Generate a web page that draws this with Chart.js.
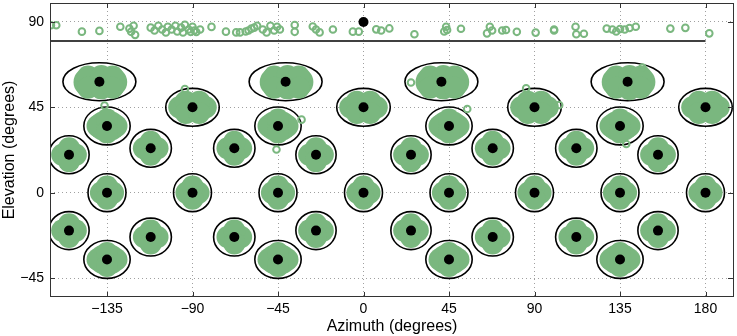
<!DOCTYPE html>
<html>
<head>
<meta charset="utf-8">
<script src="https://cdn.jsdelivr.net/npm/chart.js@4/dist/chart.umd.min.js"></script>
<style>
  html, body { margin: 0; padding: 0; background: #fff; }
  canvas { display: block; }
</style>
</head>
<body>
<canvas id="chart" width="737" height="336"></canvas>
<script>
// tick labels
const xTicks = [-135, -90, -45, 0, 45, 90, 135, 180];
const yTicks = [-45, 0, 45, 90];

// loudspeaker (target) positions, azimuth / elevation in degrees
const sourceAz = [0,
  -139, -41, 41, 139,
  -90, 0, 90, 180,
  -135, -45, 45, 135,
  -155, -25, 25, 155,
  -112, -68, 68, 112,
  -135, -90, -45, 0, 45, 90, 135, 180,
  -155, -25, 25, 155,
  -112, -68, 68, 112,
  -135, -45, 45, 135];
const sourceEl = [90,
  58.5, 58.5, 58.5, 58.5,
  45, 45, 45, 45,
  35.2, 35.2, 35.2, 35.2,
  20, 20, 20, 20,
  23.4, 23.4, 23.4, 23.4,
  0, 0, 0, 0, 0, 0, 0, 0,
  -20, -20, -20, -20,
  -23.4, -23.4, -23.4, -23.4,
  -35.2, -35.2, -35.2, -35.2];

// half widths of the black ellipses (degrees azimuth), null = no ellipse
const ellipseRx = [null,
  19.2, 19.2, 19.2, 19.2,
  14.1, 14.1, 14.1, 14.1,
  12.2, 12.2, 12.2, 12.2,
  10.6, 10.6, 10.6, 10.6,
  10.9, 10.9, 10.9, 10.9,
  10, 10, 10, 10, 10, 10, 10, 10,
  10.6, 10.6, 10.6, 10.6,
  10.9, 10.9, 10.9, 10.9,
  12.2, 12.2, 12.2, 12.2];
const ellipseRy = 10;

// dense response clouds: bulk of each cloud (az, el)
const cloudCores = [
  [-145,58.3],[-138,58.3],[-132,58.3],[-47,58.3],[-40,58.3],[-34,58.3],
  [35,58.3],[42,58.3],[48,58.3],[133,58.3],[140,58.3],[146,58.3],
  [-93.5,45],[-86.5,45],[-3.5,45],[3.5,45],[86.5,45],[93.5,45],[176.5,45],[183.5,45],
  [-137,35.2],[-133,35.2],[-47,35.2],[-43,35.2],[43,35.2],[47,35.2],[133,35.2],[137,35.2],
  [-155,20],[-25,20],[25,20],[155,20],
  [-112,23.4],[-68,23.4],[68,23.4],[112,23.4],
  [-135,0],[-90,0],[-45,0],[0,0],[45,0],[90,0],[135,0],[180,0],
  [-155,-20],[-25,-20],[25,-20],[155,-20],
  [-112,-23.4],[-68,-23.4],[68,-23.4],[112,-23.4],
  [-137,-35.2],[-133,-35.2],[-47,-35.2],[-43,-35.2],[43,-35.2],[47,-35.2],[133,-35.2],[137,-35.2]
];

// dense response clouds: outer responses (az, el)
const cloudEdges = [
  [-146.5,58.3],[-130.5,58.3],[-145,61.3],[-138,61.5],[-132,61.3],[-145,55.3],[-138,55],[-132,55.3],
  [-48.5,58.3],[-32.5,58.3],[-47,61.3],[-40,61.5],[-34,61.3],[-47,55.3],[-40,55],[-34,55.3],
  [33.5,58.3],[49.5,58.3],[35,61.3],[42,61.5],[48,61.3],[35,55.3],[42,55],[48,55.3],
  [131.5,58.3],[147.5,58.3],[133,61.3],[140,61.5],[146,61.3],[133,55.3],[140,54.5],[146,55.3],

  [-97,45],[-83,45],[-93.5,48],[-86.5,48],[-93.5,42],[-86.5,42],
  [-7,45],[7,45],[-3.5,48],[3.5,48],[-3.5,42],[3.5,42],
  [83,45],[97,45],[86.5,48],[93.5,48],[86.5,42],[93.5,42],
  [173,45],[187,45],[176.5,48],[183.5,48],[176.5,42],[183.5,42],

  [-140,35.2],[-130,35.2],[-135,38.6],[-135,31.8],
  [-50,35.2],[-40,35.2],[-45,38.6],[-45,31.8],
  [40,35.2],[50,35.2],[45,38.6],[45,31.8],
  [130,35.2],[140,35.2],[135,38.6],[135,31.8],

  [-158.6,20],[-151.4,20],[-155,23.4],[-155,16.6],
  [-28.6,20],[-21.4,20],[-25,23.4],[-25,16.6],
  [21.4,20],[28.6,20],[25,23.4],[25,16.6],
  [151.4,20],[158.6,20],[155,23.4],[155,16.6],

  [-115.6,23.4],[-108.4,23.4],[-112,26.8],[-112,20],
  [-71.6,23.4],[-64.4,23.4],[-68,26.8],[-68,20],
  [64.4,23.4],[71.6,23.4],[68,26.8],[68,20],
  [108.4,23.4],[115.6,23.4],[112,26.8],[112,20],

  [-138.2,0],[-131.8,0],[-135,3.2],[-135,-3.2],
  [-93.2,0],[-86.8,0],[-90,3.2],[-90,-3.2],
  [-48.2,0],[-41.8,0],[-45,3.2],[-45,-3.2],
  [-3.2,0],[3.2,0],[0,3.2],[0,-3.2],
  [41.8,0],[48.2,0],[45,3.2],[45,-3.2],
  [86.8,0],[93.2,0],[90,3.2],[90,-3.2],
  [131.8,0],[138.2,0],[135,3.2],[135,-3.2],
  [176.8,0],[183.2,0],[180,3.2],[180,-3.2],

  [-158.6,-20],[-151.4,-20],[-155,-16.6],[-155,-23.4],
  [-28.6,-20],[-21.4,-20],[-25,-16.6],[-25,-23.4],
  [21.4,-20],[28.6,-20],[25,-16.6],[25,-23.4],
  [151.4,-20],[158.6,-20],[155,-16.6],[155,-23.4],

  [-115.6,-23.4],[-108.4,-23.4],[-112,-20],[-112,-26.8],
  [-71.6,-23.4],[-64.4,-23.4],[-68,-20],[-68,-26.8],
  [64.4,-23.4],[71.6,-23.4],[68,-20],[68,-26.8],
  [108.4,-23.4],[115.6,-23.4],[112,-20],[112,-26.8],

  [-140,-35.2],[-130,-35.2],[-135,-31.8],[-135,-38.6],
  [-50,-35.2],[-40,-35.2],[-45,-31.8],[-45,-38.6],
  [40,-35.2],[50,-35.2],[45,-31.8],[45,-38.6],
  [130,-35.2],[140,-35.2],[135,-31.8],[135,-38.6]
];

// single responses: overhead strip and strays
const stripPoints = [
  [-164.5,88.3],[-161.7,88.3],[-148.2,84.9],[-139,85.3],[-128,87.5],[-123.2,86.5],[-122.3,84.8],[-120.2,83.2],[-121,88],
  [-112,87],[-110,85.5],[-108,88],[-106,86],[-104,84.5],[-103,87.5],[-101,86],[-99,88],[-98,85],[-96,87],[-95,84.5],
  [-94,88.5],[-92,86],[-91,84.8],[-90,87.5],[-89,85.5],[-88,84.7],[-86,86],
  [-80,87.4],[-72.4,84.9],[-67,84.5],[-65,84.5],[-62,85],[-60.5,85.5],[-59,86.5],[-57.5,87],[-56,88],
  [-53,86],[-51,84.5],[-49,88],[-47,85.5],[-45.5,87.5],[-44,86],
  [-36.2,88.4],[-36.2,84.8],[-26.7,87.6],[-25,86],[-23.1,84.5],[-16.1,86],[-5.6,84.9],[-2.5,84.9],
  [6.7,86.1],[9.3,85.5],[13.6,86.6],[26.8,83.5],[42.5,85],[43.5,87.5],[44,85.8],[51.3,86.4],
  [65,84],[66.5,87.5],[67.7,85.5],[73,85.5],[75,85.8],[80.7,84.8],[90.6,84.4],[100.3,86],[100.3,85.5],
  [111.6,87.5],[112,83.5],[116,83.8],[128,86.5],[131,86],[133,85],[135,86.3],[137.5,86],[140,86.8],[143.3,87.5],
  [161.5,86.5],[169.4,86.9],[182,84]
];
const strayPoints = [
  [-136.3,45.9],[-45.8,22.8],[-32.6,38.5],[-94,54.6],[54.6,44.1],[85.6,55],[103,46.2],[138.3,25.7],[146.8,66],[25,58.1]
];

// upper boundary line
const boundaryAz = [-165, 180];
const boundaryEl = 80;

const green = '#7ab77f';
const font = 'Liberation Sans, Arial, Helvetica, sans-serif';
const toXY = p => ({ x: p[0], y: p[1] });

const ellipsePlugin = {
  id: 'ellipses',
  beforeDatasetsDraw(chart) {
    const { ctx, chartArea: a, scales: { x, y } } = chart;
    ctx.save();
    ctx.beginPath();
    ctx.rect(a.left, a.top, a.right - a.left, a.bottom - a.top);
    ctx.clip();
    ctx.strokeStyle = '#000';
    ctx.lineWidth = 1.6;
    sourceAz.forEach((az, i) => {
      if (!ellipseRx[i]) return;
      const cx = x.getPixelForValue(az);
      const cy = y.getPixelForValue(sourceEl[i]);
      const rx = Math.abs(x.getPixelForValue(az + ellipseRx[i]) - cx);
      const ry = Math.abs(y.getPixelForValue(sourceEl[i] + ellipseRy) - cy);
      ctx.beginPath();
      ctx.ellipse(cx, cy, rx, ry, 0, 0, Math.PI * 2);
      ctx.stroke();
    });
    ctx.restore();
  }
};

// box round the plot with inward ticks on all four sides
const framePlugin = {
  id: 'frame',
  afterDraw(chart) {
    const { ctx, chartArea: a, scales: { x, y } } = chart;
    ctx.save();
    ctx.strokeStyle = '#333';
    ctx.lineWidth = 1;
    ctx.strokeRect(a.left + 0.5, a.top + 0.5, a.right - a.left - 1, a.bottom - a.top - 1);
    ctx.beginPath();
    xTicks.forEach(v => {
      const px = Math.round(x.getPixelForValue(v)) + 0.5;
      ctx.moveTo(px, a.bottom); ctx.lineTo(px, a.bottom - 5);
      ctx.moveTo(px, a.top); ctx.lineTo(px, a.top + 5);
    });
    yTicks.forEach(v => {
      const py = Math.round(y.getPixelForValue(v)) + 0.5;
      ctx.moveTo(a.left, py); ctx.lineTo(a.left + 5, py);
      ctx.moveTo(a.right, py); ctx.lineTo(a.right - 6, py);
    });
    ctx.stroke();
    ctx.restore();
  }
};

const minus = v => (v < 0 ? '\u2212' + Math.abs(v) : '' + v);

new Chart(document.getElementById('chart'), {
  type: 'scatter',
  data: {
    datasets: [
      {
        data: sourceAz.map((az, i) => ({ x: az, y: sourceEl[i] })),
        pointRadius: 5, pointBackgroundColor: '#000', pointBorderColor: '#000', pointBorderWidth: 0,
        order: 0
      },
      {
        data: stripPoints.concat(strayPoints).map(toXY),
        pointRadius: 3.3, pointBackgroundColor: 'rgba(0,0,0,0)', pointBorderColor: green, pointBorderWidth: 2,
        order: 1
      },
      {
        data: boundaryAz.map(az => ({ x: az, y: boundaryEl })),
        showLine: true, borderColor: '#000', borderWidth: 1.6, pointRadius: 0,
        order: 1
      },
      {
        data: cloudEdges.map(toXY),
        pointRadius: 11, pointBackgroundColor: green, pointBorderColor: green, pointBorderWidth: 0,
        order: 2
      },
      {
        data: cloudCores.map(toXY),
        pointRadius: 14.5, pointBackgroundColor: green, pointBorderColor: green, pointBorderWidth: 0,
        order: 3
      }
    ]
  },
  options: {
    responsive: false,
    animation: false,
    devicePixelRatio: 1,
    layout: { autoPadding: false, padding: { top: 3, right: 3, left: 0, bottom: 0 } },
    plugins: { legend: { display: false }, tooltip: { enabled: false } },
    scales: {
      x: {
        type: 'linear', min: -165, max: 195,
        afterBuildTicks: s => { s.ticks = xTicks.map(v => ({ value: v })); },
        afterFit: s => { s.height = 39; s.paddingLeft = 0; s.paddingRight = 0; },
        grid: { color: '#a0a0a0', lineWidth: 1, drawTicks: false },
        border: { display: false, dash: [1, 3] },
        ticks: { color: '#000', padding: 4, font: { family: font, size: 14 }, callback: minus },
        title: { display: true, text: 'Azimuth (degrees)', color: '#000', padding: 0, font: { family: font, size: 16 } }
      },
      y: {
        type: 'linear', min: -55, max: 100,
        afterBuildTicks: s => { s.ticks = yTicks.map(v => ({ value: v })); },
        afterFit: s => { s.width = 50; s.paddingTop = 0; s.paddingBottom = 0; },
        grid: { color: '#a0a0a0', lineWidth: 1, drawTicks: false },
        border: { display: false, dash: [1, 3] },
        ticks: { color: '#000', padding: 6, font: { family: font, size: 14 }, callback: minus },
        title: { display: true, text: 'Elevation (degrees)', color: '#000', padding: 0, font: { family: font, size: 16 } }
      }
    }
  },
  plugins: [ellipsePlugin, framePlugin]
});
</script>
</body>
</html>
